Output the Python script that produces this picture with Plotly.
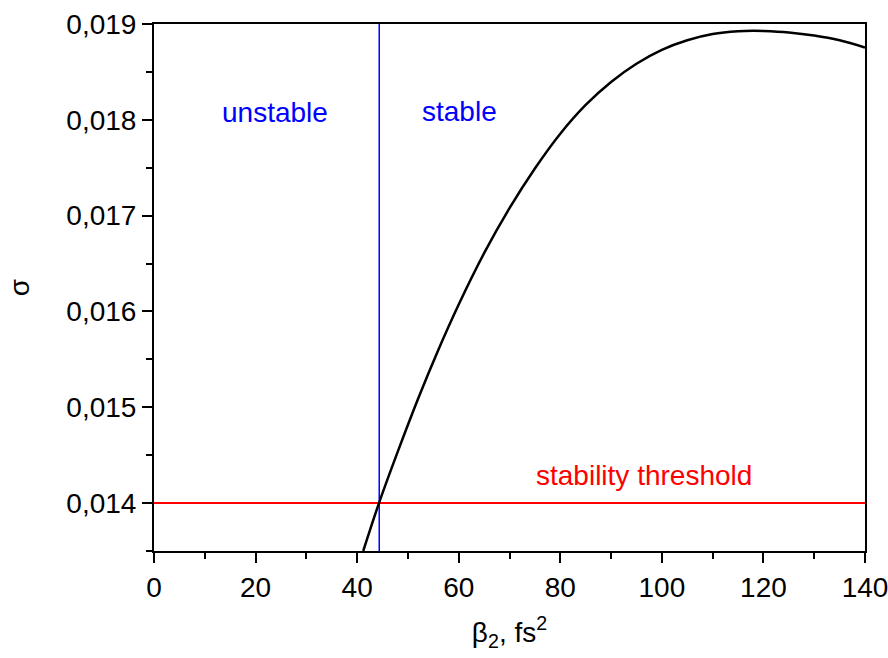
import plotly.graph_objects as go

# Curve sigma(beta2)
beta2 = [41.2, 44.3, 48, 52, 56, 60, 65, 70, 75, 80, 85, 90, 95, 100, 105,
         110, 115, 118, 120, 125, 130, 135, 140]
sigma = [0.013500, 0.014000, 0.014537, 0.015089, 0.015601, 0.016073,
         0.016608, 0.017078, 0.017492, 0.017855, 0.018155, 0.018395,
         0.018585, 0.018730, 0.018830, 0.018895, 0.018925, 0.018930,
         0.018928, 0.018912, 0.018880, 0.018830, 0.018755]

threshold_x = [0, 140]
threshold_y = [0.014, 0.014]
boundary_x = [44.35, 44.35]
boundary_y = [0.0135, 0.019]

x_ticks = [0, 20, 40, 60, 80, 100, 120, 140]
y_ticks = [0.014, 0.015, 0.016, 0.017, 0.018, 0.019]
y_ticktext = ["0,014", "0,015", "0,016", "0,017", "0,018", "0,019"]

FONT = "Liberation Sans, Arial, sans-serif"
FS = 28

fig = go.Figure()
fig.add_trace(go.Scatter(x=threshold_x, y=threshold_y, mode="lines",
                         line=dict(color="#ff0000", width=2), showlegend=False))
fig.add_trace(go.Scatter(x=boundary_x, y=boundary_y, mode="lines",
                         line=dict(color="#0000ff", width=1.5), showlegend=False))
fig.add_trace(go.Scatter(x=beta2, y=sigma, mode="lines",
                         line=dict(color="black", width=2.5, shape="spline", smoothing=1),
                         showlegend=False))

fig.add_annotation(x=23.8, y=0.01808, text="unstable", showarrow=False,
                   font=dict(color="#0000ff", size=FS, family=FONT))
fig.add_annotation(x=60.2, y=0.01809, text="stable", showarrow=False,
                   font=dict(color="#0000ff", size=FS, family=FONT))
fig.add_annotation(x=96.5, y=0.01429, text="stability threshold", showarrow=False,
                   font=dict(color="#ff0000", size=FS, family=FONT))

fig.update_layout(
    width=888, height=658,
    margin=dict(l=154, r=23, t=24, b=107),
    plot_bgcolor="white", paper_bgcolor="white",
    font=dict(family=FONT, size=FS, color="black"),
)
fig.update_xaxes(
    range=[0, 140], tickvals=x_ticks, ticktext=[str(v) for v in x_ticks],
    showgrid=False, zeroline=False, automargin=False, ticklabeloverflow="allow",
    showline=True, linecolor="black", linewidth=2, mirror=True,
    ticks="outside", ticklen=10, tickwidth=2, tickcolor="black",
    minor=dict(dtick=10, ticks="outside", ticklen=6, tickwidth=2, tickcolor="black"),
    tickfont=dict(size=FS),
    title=dict(text="β<sub>2</sub>, fs<sup>2</sup>", font=dict(size=FS), standoff=21),
)
fig.update_yaxes(
    range=[0.0135, 0.019], tickvals=y_ticks, ticktext=y_ticktext,
    showgrid=False, zeroline=False, automargin=False, ticklabeloverflow="allow",
    showline=True, linecolor="black", linewidth=2, mirror=True,
    ticks="outside", ticklen=10, tickwidth=2, tickcolor="black",
    minor=dict(tickvals=[0.0135, 0.0145, 0.0155, 0.0165, 0.0175, 0.0185],
               ticks="outside", ticklen=6, tickwidth=2, tickcolor="black"),
    tickfont=dict(size=FS),
    title=dict(text="σ", font=dict(size=FS), standoff=29),
)

fig.write_html("out.html")
